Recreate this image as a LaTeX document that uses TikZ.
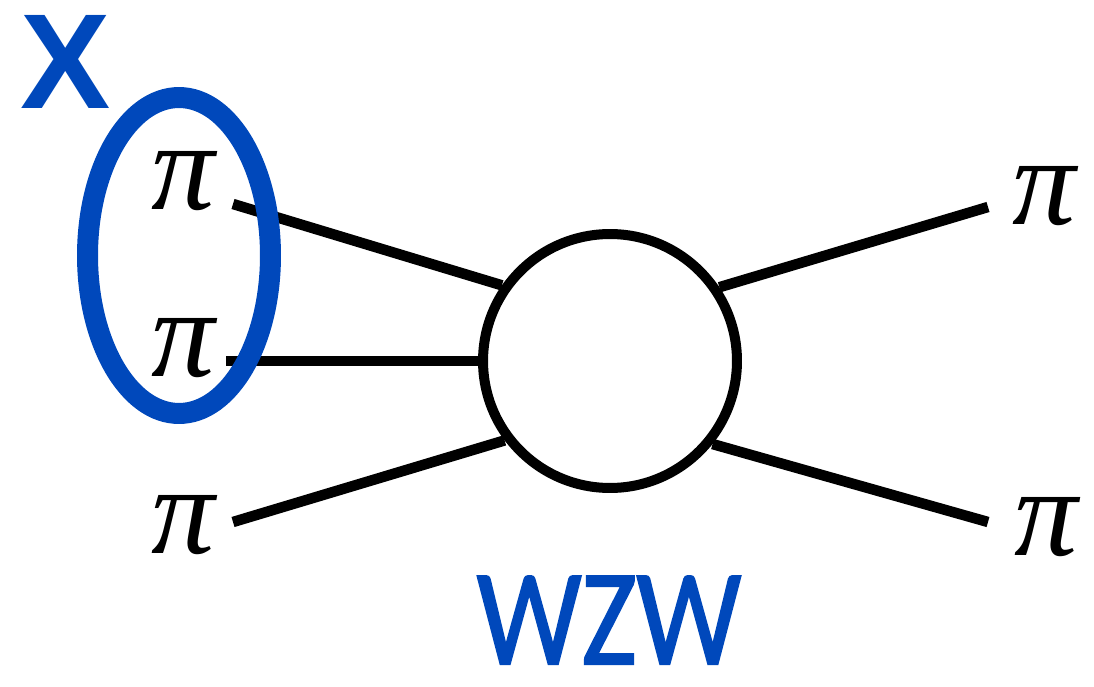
\documentclass[tikz,border=0pt]{standalone}
\usepackage{fontspec}
\usepackage{graphicx}
\newfontfamily\tagfont{Liberation Sans}
\newfontfamily\pifont{Liberation Serif}
\newfontfamily\namefont[FakeBold=1.5]{Carlito}
\usetikzlibrary{shapes.geometric, positioning}
\definecolor{markblue}{RGB}{0,72,187}

\tikzset{
  pion/.style={inner sep=0pt, font=\pifont\itshape\fontsize{72}{80}\selectfont},
  leg/.style={line width=0.21cm},
  vertex/.style={circle, draw, line width=0.2cm, minimum size=5.08cm, inner sep=0pt},
}

\begin{document}
\begin{tikzpicture}[x=0.02cm, y=-0.02cm]
  \useasboundingbox (0,0) rectangle (1094,686);

  % the vertex
  \node[vertex] (wzw) at (610,361) {};

  % incoming pions
  \node[pion] (pi1) at (183,181) {π};
  \node[pion] (pi2) at (183,348) {π};
  \node[pion] (pi3) at (183,525) {π};
  % outgoing pions
  \node[pion] (pi4) at (1044,196) {π};
  \node[pion] (pi5) at (1046,527) {π};

  \coordinate (a1) at (233,204);
  \coordinate (a2) at (226,361);
  \coordinate (a3) at (233,522);
  \coordinate (b1) at (988,207);
  \coordinate (b2) at (988,522);

  \draw[leg] (a1) -- (wzw.145);
  \draw[leg] (a2) -- (wzw.180);
  \draw[leg] (a3) -- (wzw.217);
  \draw[leg] (wzw.34) -- (b1);
  \draw[leg] (wzw.-39) -- (b2);

  % grouped pair
  \node[ellipse, draw=markblue, line width=0.42cm, minimum width=3.66cm,
        minimum height=6.32cm, inner sep=0pt] (pair) at (179,255.5) {};
  \node[text=markblue, font=\tagfont\bfseries\fontsize{77}{80}\selectfont,
        inner sep=0pt] (xlab) at (66,62) {X};

  \node[text=markblue, font=\namefont\fontsize{78}{84}\selectfont,
        inner sep=0pt, text depth=0pt, anchor=base] (name) at (609,664)
        {\scalebox{0.86}[1]{WZW}};
\end{tikzpicture}
\end{document}
